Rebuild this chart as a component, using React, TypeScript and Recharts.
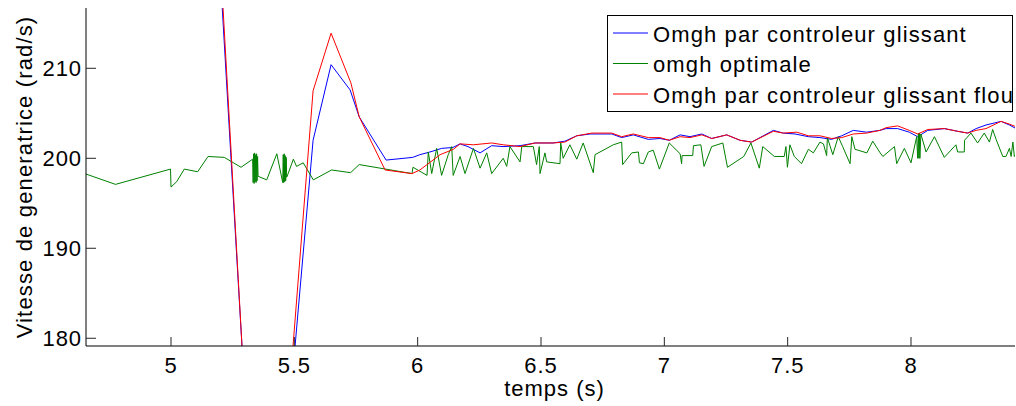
import React from 'react';
import { LineChart, Line, XAxis, YAxis, Legend } from 'recharts';

// ---- axis configuration values ----
const xTicks = [5, 5.5, 6, 6.5, 7, 7.5, 8];
const yTicks = [180, 190, 200, 210];
const xDomain: [number, number] = [4.6554, 8.4216];
const yDomain: [number, number] = [179.14, 216.7];

const xLabel = 'temps (s)';
const yLabel = 'Vitesse de generatrice (rad/s)';

const seriesNames = [
  'Omgh par controleur glissant',
  'omgh optimale',
  'Omgh par controleur glissant flou',
];
const seriesColors = ['#0000ff', '#008000', '#ff0000'];

// ---- series: [time (s), speed (rad/s)] ----
const blueSeries: [number, number][] = [
  [5.19, 225.0], [5.33, 159.3], [5.43, 156.3], [5.576, 202.0], [5.649, 210.4],
  [5.726, 207.6], [5.763, 204.6], [5.872, 199.8], [5.98, 200.1], [6.009, 200.4],
  [6.05, 200.7], [6.097, 201.1], [6.143, 201.2], [6.172, 201.6], [6.204, 201.3],
  [6.253, 200.6], [6.3, 201.4], [6.346, 201.3], [6.415, 201.4], [6.476, 201.7],
  [6.549, 201.7], [6.597, 201.9], [6.645, 202.5], [6.699, 202.7], [6.787, 202.7],
  [6.827, 202.3], [6.874, 202.6], [6.935, 202.1], [6.982, 202.2], [7.02, 202.0],
  [7.064, 202.6], [7.104, 202.4], [7.152, 202.7], [7.192, 202.2], [7.253, 202.6],
  [7.307, 202.0], [7.354, 201.8], [7.442, 203.1], [7.482, 202.8], [7.53, 202.7],
  [7.584, 202.4], [7.631, 202.3], [7.678, 202.1], [7.719, 202.5], [7.766, 203.1],
  [7.82, 202.9], [7.874, 203.1], [7.899, 203.3], [7.946, 203.3], [7.993, 202.9],
  [8.027, 202.4], [8.068, 203.1], [8.135, 203.3], [8.189, 203.0], [8.23, 202.8],
  [8.264, 203.3], [8.304, 203.7], [8.365, 204.1], [8.399, 203.7], [8.426, 203.3],
];

const greenSeries: [number, number][] = [
  [4.65, 198.3], [4.775, 197.1], [4.998, 198.8], [5.0, 196.8], [5.023, 197.4],
  [5.054, 198.8], [5.108, 198.5], [5.15, 200.2], [5.216, 200.1], [5.284, 199.0],
  [5.331, 199.9], [5.333, 197.3], [5.335, 200.5], [5.337, 197.2], [5.339, 200.6],
  [5.341, 197.4], [5.343, 200.4], [5.345, 197.3], [5.347, 200.5], [5.349, 197.5],
  [5.351, 200.2], [5.353, 198.0], [5.388, 197.6], [5.429, 200.5], [5.453, 197.3],
  [5.455, 200.4], [5.457, 197.3], [5.459, 200.5], [5.461, 197.4], [5.463, 200.3],
  [5.465, 197.5], [5.467, 200.1], [5.469, 197.9], [5.475, 198.3], [5.496, 199.9],
  [5.509, 199.1], [5.536, 199.5], [5.577, 197.6], [5.651, 198.7], [5.728, 198.4],
  [5.763, 199.3], [5.87, 198.8], [5.977, 198.3], [5.981, 199.0], [6.038, 198.1],
  [6.043, 200.7], [6.057, 198.3], [6.077, 201.1], [6.097, 198.1], [6.124, 200.4],
  [6.138, 201.3], [6.144, 198.1], [6.172, 200.2], [6.192, 198.3], [6.226, 201.1],
  [6.253, 198.9], [6.28, 200.6], [6.3, 198.3], [6.347, 200.0], [6.361, 199.1],
  [6.374, 201.3], [6.415, 199.6], [6.422, 201.3], [6.469, 201.3], [6.482, 199.3],
  [6.493, 201.3], [6.496, 198.3], [6.516, 200.6], [6.523, 199.6], [6.577, 199.4],
  [6.58, 201.7], [6.59, 200.0], [6.617, 201.5], [6.645, 199.9], [6.671, 201.7],
  [6.712, 198.4], [6.719, 200.4], [6.793, 201.5], [6.827, 201.8], [6.831, 199.3],
  [6.868, 200.6], [6.895, 200.7], [6.899, 199.5], [6.915, 199.4], [6.935, 200.7],
  [6.955, 200.9], [6.98, 198.8], [7.02, 201.7], [7.064, 200.5], [7.07, 199.4],
  [7.072, 200.3], [7.115, 200.3], [7.118, 201.4], [7.148, 201.5], [7.161, 199.1],
  [7.192, 201.3], [7.237, 201.7], [7.256, 199.0], [7.322, 200.2], [7.351, 201.7],
  [7.385, 198.9], [7.399, 201.3], [7.446, 200.2], [7.486, 200.2], [7.493, 201.3],
  [7.499, 199.0], [7.509, 201.5], [7.527, 200.2], [7.556, 199.4], [7.584, 201.0],
  [7.604, 200.6], [7.631, 201.8], [7.645, 201.6], [7.658, 200.3], [7.661, 202.3],
  [7.683, 200.4], [7.705, 202.4], [7.723, 201.3], [7.753, 199.4], [7.76, 202.4],
  [7.773, 201.0], [7.821, 200.6], [7.845, 201.9], [7.875, 200.6], [7.886, 200.2],
  [7.933, 201.3], [7.942, 199.4], [7.973, 201.1], [8.0, 199.5], [8.023, 202.4],
  [8.027, 200.0], [8.03, 202.8], [8.032, 200.0], [8.034, 202.8], [8.036, 200.0],
  [8.04, 202.7], [8.061, 200.7], [8.095, 202.4], [8.135, 200.1], [8.182, 201.5],
  [8.189, 200.7], [8.216, 200.7], [8.217, 202.0], [8.243, 202.8], [8.27, 201.7],
  [8.297, 202.8], [8.318, 201.8], [8.331, 203.2], [8.345, 202.1], [8.372, 200.2],
  [8.385, 200.2], [8.399, 201.1], [8.406, 200.2], [8.413, 201.8], [8.419, 200.2],
  [8.434, 200.9],
];

const redSeries: [number, number][] = [
  [5.19, 226.9], [5.33, 158.6], [5.43, 156.6], [5.576, 207.5], [5.649, 213.9],
  [5.729, 208.4], [5.763, 204.6], [5.868, 198.7], [5.977, 198.3], [6.009, 198.7],
  [6.091, 200.4], [6.145, 201.0], [6.172, 201.6], [6.226, 201.5], [6.3, 201.7],
  [6.347, 201.5], [6.415, 201.3], [6.476, 201.7], [6.549, 201.7], [6.597, 201.8],
  [6.645, 202.5], [6.706, 202.8], [6.787, 202.8], [6.827, 202.4], [6.874, 202.7],
  [6.935, 202.3], [6.982, 202.3], [7.02, 202.0], [7.064, 202.4], [7.104, 202.3],
  [7.152, 202.6], [7.192, 202.2], [7.253, 202.6], [7.307, 202.0], [7.354, 201.8],
  [7.442, 203.0], [7.482, 202.8], [7.537, 202.9], [7.584, 202.5], [7.631, 202.5],
  [7.678, 202.2], [7.719, 202.3], [7.766, 202.7], [7.82, 202.8], [7.874, 203.1],
  [7.899, 203.4], [7.946, 203.6], [7.993, 203.1], [8.027, 202.7], [8.068, 203.2],
  [8.135, 203.3], [8.189, 203.0], [8.23, 202.8], [8.264, 203.1], [8.304, 203.3],
  [8.365, 204.1], [8.399, 203.8], [8.426, 203.5],
];

const toRows = (pts: [number, number][]) => pts.map(([t, v]) => ({ t, v }));
const blueData = toRows(blueSeries);
const greenData = toRows(greenSeries);
const redData = toRows(redSeries);

const FONT = '"Liberation Sans", Arial, Helvetica, sans-serif';
const TICK_COLOR = '#262626';

const BottomTick = (props: any) => {
  const { x, y, payload } = props;
  return (
    <g>
      <line x1={x} y1={y} x2={x} y2={y - 9} stroke={TICK_COLOR} strokeWidth={1} />
      <text x={x} y={y + 27} textAnchor="middle" fontSize={22} fontFamily={FONT}
        letterSpacing={0.9} fill="#000">{payload.value}</text>
    </g>
  );
};

const TopTick = (props: any) => {
  const { x, y } = props;
  return <line x1={x} y1={y} x2={x} y2={y + 9} stroke={TICK_COLOR} strokeWidth={1} />;
};

const LeftTick = (props: any) => {
  const { x, y, payload } = props;
  return (
    <g>
      <line x1={x} y1={y} x2={x + 10} y2={y} stroke={TICK_COLOR} strokeWidth={1} />
      <text x={x - 4} y={y + 8} textAnchor="end" fontSize={22} fontFamily={FONT}
        letterSpacing={0.9} fill="#000">{payload.value}</text>
    </g>
  );
};

const RightTick = (props: any) => {
  const { x, y } = props;
  return <line x1={x} y1={y} x2={x - 10} y2={y} stroke={TICK_COLOR} strokeWidth={1} />;
};

const YTitle = (props: any) => {
  const vb = props.viewBox || { x: 0, y: 8, width: 86, height: 338 };
  const cx = vb.x + 31.5;
  const cy = vb.y + vb.height / 2;
  return (
    <text x={cx} y={cy} transform={`rotate(-90, ${cx}, ${cy})`} textAnchor="middle"
      fontSize={22} fontFamily={FONT} letterSpacing={1.15} fill="#000">{yLabel}</text>
  );
};

const XTitle = (props: any) => {
  const vb = props.viewBox || { x: 86, y: 346, width: 929, height: 60 };
  const cx = vb.x + vb.width / 2 + 4;
  return (
    <text x={cx} y={vb.y + 50} textAnchor="middle" fontSize={22} fontFamily={FONT}
      letterSpacing={1} fill="#000">{xLabel}</text>
  );
};

const LegendBox = (props: any) => {
  const payload = [...(props.payload || [])].sort(
    (a: any, b: any) => seriesNames.indexOf(a.value) - seriesNames.indexOf(b.value)
  );
  return (
    <svg width={406} height={97} style={{ display: 'block' }}>
      <rect x={0.5} y={0.5} width={405} height={96} fill="#ffffff" stroke="#000000" strokeWidth={1} />
      {payload.map((p: any, i: number) => {
        const cy = 18 + i * 30.5;
        return (
          <g key={p.value}>
            <line x1={6} x2={41} y1={cy} y2={cy} stroke={p.color} strokeWidth={1} />
            <text x={46} y={cy + 8.5} fontSize={22} fontFamily={FONT} letterSpacing={1.12}
              fill="#000">{p.value}</text>
          </g>
        );
      })}
    </svg>
  );
};

export default function App() {
  return (
    <div style={{ position: 'absolute', left: 0, top: 0, width: 1016, height: 406, background: '#fff' }}>
      <LineChart width={1016} height={406} margin={{ top: 8, right: 1, bottom: 0, left: 0 }}>
        <XAxis dataKey="t" type="number" domain={xDomain} ticks={xTicks} allowDataOverflow
          height={60} tickSize={0} tickMargin={0} tickLine={false} tick={<BottomTick />}
          axisLine={{ stroke: '#000', strokeWidth: 1 }} interval={0}
          label={(p: any) => <XTitle {...p} />} />
        <XAxis xAxisId="top" orientation="top" dataKey="t" type="number" domain={xDomain}
          ticks={xTicks} allowDataOverflow height={0} tickSize={0} tickMargin={0} tickLine={false}
          tick={<TopTick />} axisLine={{ stroke: '#000', strokeWidth: 1 }} interval={0} />
        <YAxis type="number" domain={yDomain} ticks={yTicks} allowDataOverflow width={86}
          tickSize={0} tickMargin={0} tickLine={false} tick={<LeftTick />} interval={0}
          axisLine={{ stroke: '#000', strokeWidth: 1 }}
          label={(p: any) => <YTitle {...p} />} />
        <YAxis yAxisId="right" orientation="right" type="number" domain={yDomain} ticks={yTicks}
          allowDataOverflow width={0} tickSize={0} tickMargin={0} tickLine={false}
          tick={<RightTick />} interval={0} axisLine={{ stroke: '#000', strokeWidth: 1 }} />
        <Legend layout="vertical" align="center" verticalAlign="middle"
          wrapperStyle={{ left: 607, top: 15, width: 406, height: 97 }}
          content={(p: any) => <LegendBox {...p} />} />
        <Line data={blueData} dataKey="v" name={seriesNames[0]} stroke={seriesColors[0]}
          strokeWidth={1} dot={false} activeDot={false} isAnimationActive={false} type="linear" />
        <Line data={greenData} dataKey="v" name={seriesNames[1]} stroke={seriesColors[1]}
          strokeWidth={1} dot={false} activeDot={false} isAnimationActive={false} type="linear" />
        <Line data={redData} dataKey="v" name={seriesNames[2]} stroke={seriesColors[2]}
          strokeWidth={1} dot={false} activeDot={false} isAnimationActive={false} type="linear" />
      </LineChart>
    </div>
  );
}
